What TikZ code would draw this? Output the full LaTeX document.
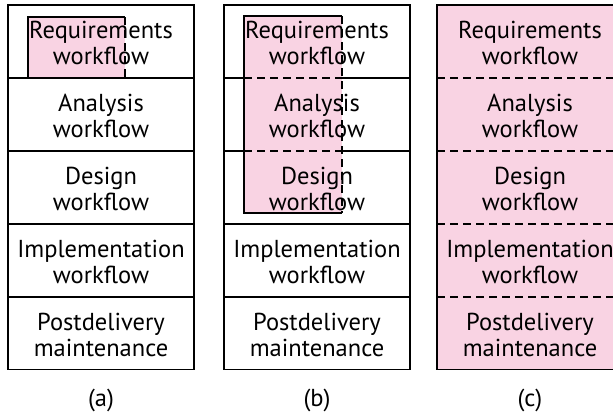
\documentclass[tikz,border=0pt]{standalone}
\usepackage{fontspec}
\setmainfont{PT Sans}
\definecolor{stagepink}{RGB}{249,211,227}
\tikzset{
    wf/.style={align=center, inner sep=0pt, font=\fontsize{24.5}{25.5}\selectfont},
    outline/.style={line width=1.1pt},
    split/.style={line width=1.1pt, dash pattern=on 8pt off 5pt},
}

\begin{document}
\begin{tikzpicture}[x=1pt, y=-1pt]
    \clip (0,0) rectangle (613,415);
    % shaded parts
    \fill [stagepink] (28,17) rectangle (125,78);
    \fill [stagepink] (244,16) rectangle (342,213);
    \fill [stagepink] (437,5) rectangle (623,369.5);
    % workflow texts
    \foreach \txt [count=\i] in {{Requirements\\workflow}, {Analysis\\workflow}, {Design\\workflow}, {Implementation\\workflow}, {Postdelivery\\maintenance}} {
        \node [wf] (a\i) at (101, {43+73*(\i-1)}) {\txt};
        \node [wf] (b\i) at (317, {43+73*(\i-1)}) {\txt};
        \node [wf] (c\i) at (530, {43+73*(\i-1)}) {\txt};
    }
    % (a)
    \draw [outline] (8,5) rectangle (194,369.5);
    \draw [outline] (8,78) -- (194,78) (8,151) -- (194,151) (8,224) -- (194,224) (8,297) -- (194,297);
    \draw [outline] (28,78) -- (28,17) -- (125,17);
    \draw [split] (125,17) -- (125,78);
    % (b)
    \draw [outline] (224,5) rectangle (410,369.5);
    \draw [outline] (224,78) -- (244,78) (342,78) -- (410,78);
    \draw [outline] (224,151) -- (244,151) (342,151) -- (410,151);
    \draw [outline] (224,224) -- (410,224) (224,297) -- (410,297);
    \draw [split] (244,78) -- (342,78) (244,151) -- (342,151);
    \draw [outline] (342,213) -- (244,213) -- (244,16) -- (342,16);
    \draw [split] (342,16) -- (342,213);
    % (c)
    \draw [outline] (437,5) rectangle (623,369.5);
    \draw [split] (437,78) -- (623,78) (437,151) -- (623,151) (437,224) -- (623,224) (437,297) -- (623,297);
    % captions
    \node [wf] (la) at (101,400) {(a)};
    \node [wf] (lb) at (317,400) {(b)};
    \node [wf] (lc) at (530,400) {(c)};
\end{tikzpicture}
\end{document}
